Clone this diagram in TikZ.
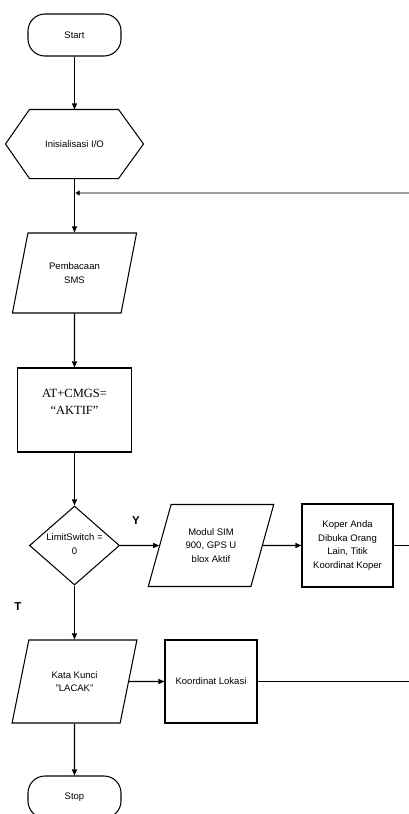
\documentclass[tikz,border=0pt]{standalone}
\usepackage{fontspec}
\setmainfont{Liberation Sans}
\newfontfamily\timesf{Liberation Serif}
\usetikzlibrary{shapes.geometric,arrows.meta}
\begin{document}
\begin{tikzpicture}[x=1pt,y=-1pt,
  line width=1.05pt,
  every node/.style={font=\fontsize{9.5}{13.5}\selectfont, inner sep=0pt},
  term/.style={draw, rectangle, rounded corners=17pt, minimum width=93pt, minimum height=42pt},
  io/.style={draw, trapezium, trapezium left angle=67.6, trapezium right angle=112.4,
             trapezium stretches=true, minimum width=125pt, minimum height=80pt, align=center},
  proc/.style={draw, rectangle, minimum width=92pt, minimum height=83pt, align=center},
  decis/.style={draw, diamond, minimum width=90pt, minimum height=79pt},
  arr/.style={-{Triangle[length=6pt,width=5pt]}},
  lbl/.style={font=\fontsize{11.5}{13}\selectfont\bfseries}
]
\useasboundingbox (0,0) rectangle (409,814);

\node[term] (start) at (74.5,35) {Start};
\node[minimum width=137pt, minimum height=68pt] (init) at (74.5,144) {Inisialisasi I/O};
\draw (init.west) -- ([xshift=24pt]init.north west) -- ([xshift=-25pt]init.north east)
      -- (init.east) -- ([xshift=-25pt]init.south east) -- ([xshift=24pt]init.south west) -- cycle;

\node[io] (pem) at (74.5,273) {Pembacaan\\SMS};
\node[proc, minimum width=114pt, minimum height=84pt, font=\timesf\fontsize{12.5}{17}\selectfont]
  (at) at (74.5,410) {AT+CMGS=\\“AKTIF”\\\mbox{}};

\node[decis] (dec) at (74.5,545.5) {};
\node[align=center] (dect) at (74.5,544) {LimitSwitch =\\0};

\node[io, minimum width=126pt, minimum height=82pt, trapezium left angle=66.9, trapezium right angle=113.1]
  (modul) at (211,545.5) {Modul SIM\\900, GPS U\\blox Aktif};
\node[proc, minimum width=91pt] (koper) at (347.5,545.5) {Koper Anda\\Dibuka Orang\\Lain, Titik\\Koordinat Koper};

\node[io, minimum height=83pt] (kata) at (74.5,681.5) {Kata Kunci\\"LACAK"};
\node[proc] (lok) at (211,681.5) {Koordinat Lokasi};
\node[term] (stop) at (74.5,797) {Stop};

\node[lbl] (ly) at (136,521) {Y};
\node[lbl] (lt) at (18,607) {T};

\coordinate (fb) at (409,193);
\coordinate (fbj) at (75.5,193);
\coordinate (r1) at (409,545.5);
\coordinate (r2) at (409,681.5);

\draw[arr] (start) -- (init);
\draw[arr] (init) -- (pem);
\draw[arr] (pem) -- (at);
\draw[arr] (at) -- (dec);
\draw[arr] (dec) -- (modul);
\draw[arr] (modul) -- (koper);
\draw (koper) -- (r1);
\draw[arr] (dec) -- (kata);
\draw[arr] (kata) -- (lok);
\draw (lok) -- (r2);
\draw[arr] (kata) -- (stop);
\draw[gray!75, line width=2.5pt, -{Triangle[length=4pt,width=5pt,black]}] (fb) -- (fbj);
\end{tikzpicture}
\end{document}
